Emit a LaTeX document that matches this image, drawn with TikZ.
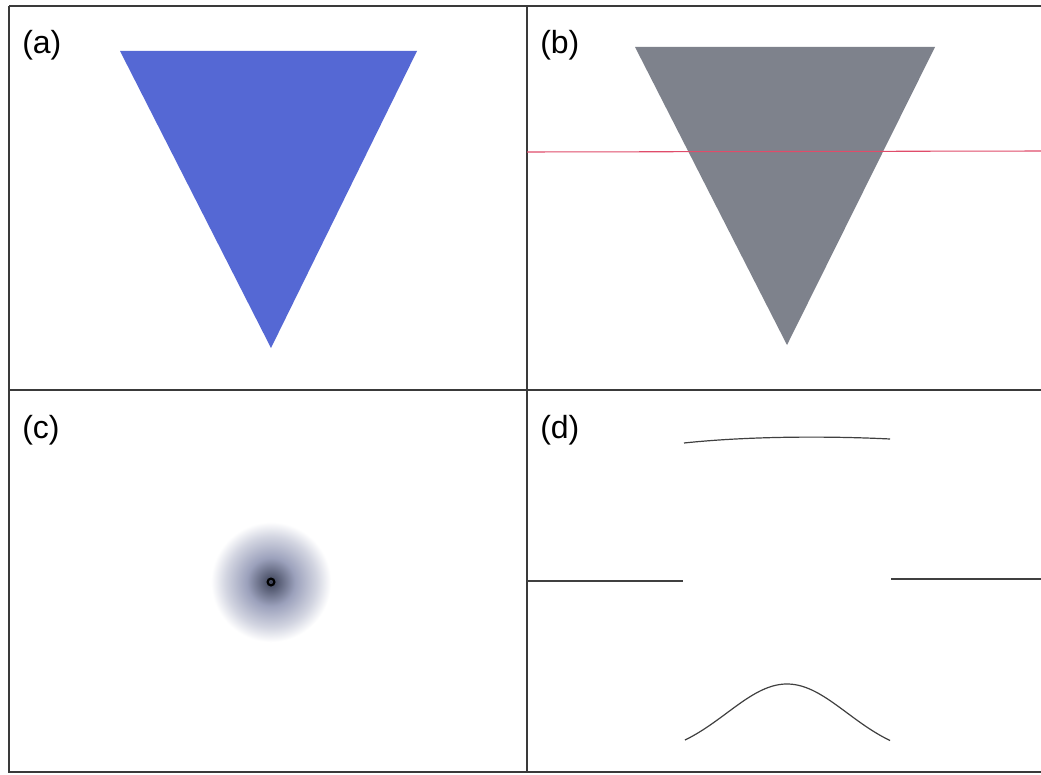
\documentclass[tikz,border=0pt]{standalone}
\usepackage{fontspec}
\setsansfont{Liberation Sans}
\usetikzlibrary{calc, positioning}
\definecolor{tribl}{HTML}{5568D4}
\definecolor{trigr}{HTML}{7E828C}
\definecolor{frameln}{HTML}{3A3A3A}
\definecolor{cutred}{HTML}{E04C6A}
\definecolor{blobc}{HTML}{3C4258}
\definecolor{blobm}{HTML}{9096B4}
\pgfdeclareradialshading{blobshade}{\pgfpoint{0bp}{0bp}}{%
  color(0bp)=(blobc); color(10bp)=(blobm!90!white); color(19bp)=(blobm!40!white);
  color(25bp)=(white); color(50bp)=(white)}
\tikzset{
  % cornice dei pannelli
  panelframe/.style={draw=frameln, line width=1.3pt},
  % etichetta del pannello
  panellbl/.style={font=\sffamily\fontsize{24}{28}\selectfont, anchor=west, inner sep=0pt},
  % triangoli
  tri blue/.style={fill=tribl, draw=none},
  tri gray/.style={fill=trigr, draw=none},
  % linee del profilo
  trace/.style={draw=black!75, line width=0.9pt},
}

\begin{document}
\begin{tikzpicture}[x=0.75pt, y=-0.75pt]
  \useasboundingbox (0,0) rectangle (1041,774);
  \fill[white] (0,0) rectangle (1041,774);
  % pannelli
  \draw[panelframe] (9,6) -- (1041,6);
  \draw[panelframe] (9,6) -- (9,772) -- (1041,772);
  \draw[panelframe] (527,6) -- (527,772);
  \draw[panelframe] (9,390) -- (1041,390);
  % (a)
  \node[panellbl] (la) at (22,45) {(a)};
  \fill[tri blue] (120,51) -- (417,51) -- (271,348) -- cycle;
  % (b)
  \node[panellbl] (lb) at (540,45) {(b)};
  \fill[tri gray] (635,47) -- (935,47) -- (787,345) -- cycle;
  \draw[cutred, line width=0.8pt] (527,152) -- (1041,151);
  % (c)
  \node[panellbl] (lc) at (22,430) {(c)};
  \shade[shading=blobshade] (271,582) circle (60);
  \draw[black, line width=1.6pt] (271,582) circle (3.4);
  % (d)
  \node[panellbl] (ld) at (540,430) {(d)};
  \draw[trace] (684,443) .. controls (750,436) and (830,436) .. (890,439);
  \draw[trace] (527,581) -- (683,581);
  \draw[trace] (891,579) -- (1041,579);
  \draw[trace] plot[domain=685:890, samples=80, smooth]
    (\x,{757.3-73.3*exp(-((\x-787)/60)^2/2)});
\end{tikzpicture}
\end{document}
